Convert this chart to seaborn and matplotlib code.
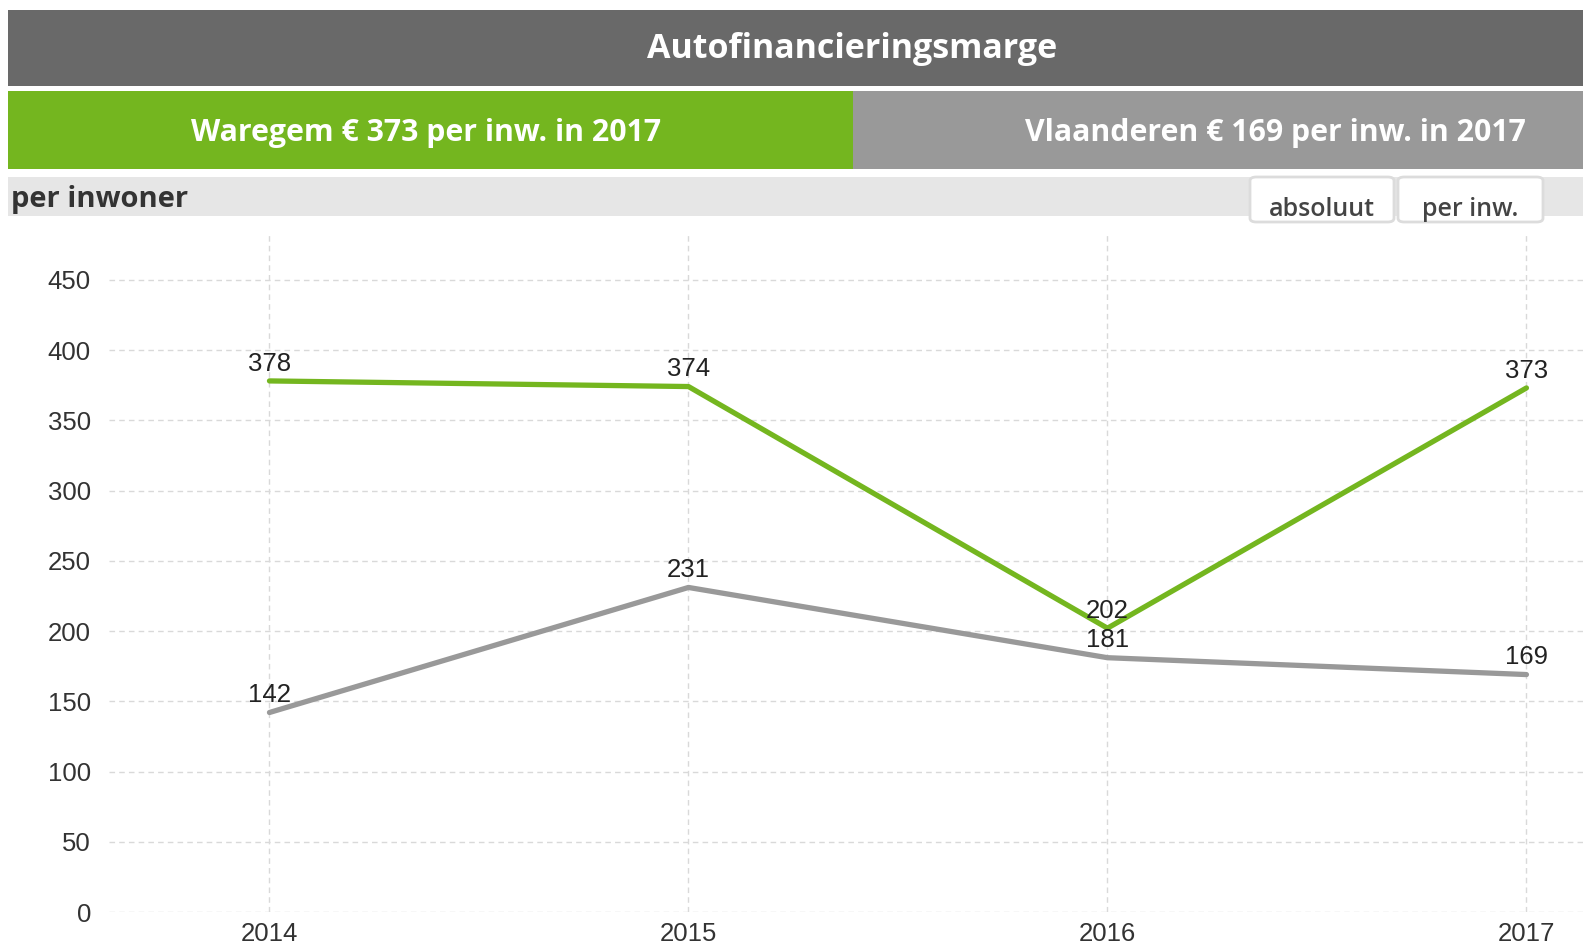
import pandas as pd
import matplotlib.pyplot as plt
import seaborn as sns
from matplotlib.patches import Rectangle, FancyBboxPatch

# data
years = [2014, 2015, 2016, 2017]
waregem = [378, 374, 202, 373]
vlaanderen = [142, 231, 181, 169]
series_names = ['Waregem', 'Vlaanderen']

title = 'Autofinancieringsmarge'
header_left = 'Waregem € 373 per inw. in 2017'
header_right = 'Vlaanderen € 169 per inw. in 2017'

df = pd.DataFrame({
    'jaar': years * 2,
    'waarde': waregem + vlaanderen,
    'reeks': [series_names[0]] * 4 + [series_names[1]] * 4,
})

sns.set_style('white')
plt.rcParams['font.family'] = ['Liberation Sans', 'DejaVu Sans']

W, H = 1583, 946
fig = plt.figure(figsize=(W / 100, H / 100), dpi=100)


def box(x0, y0, x1, y1):
    # pixel coords (top-left origin) -> figure fraction
    return x0 / W, 1 - y1 / H, (x1 - x0) / W, (y1 - y0) / H


def fx(x):
    return x / W


def fy(y):
    return 1 - y / H


green = '#74b61f'
grey = '#999999'

# header bars
for (x0, y0, x1, y1), col in [((8, 10, 1583, 86), '#696969'),
                              ((8, 91, 853, 169), green),
                              ((853, 91, 1583, 169), grey),
                              ((8, 177, 1583, 216), '#e6e6e6')]:
    l, b, w, h = box(x0, y0, x1, y1)
    fig.patches.append(Rectangle((l, b), w, h, transform=fig.transFigure,
                                 facecolor=col, edgecolor='none', zorder=0))

hdr_font = ['Open Sans', 'DejaVu Sans']
fig.text(fx(852), fy(49), title, ha='center', va='center', color='white',
         fontsize=24.5, fontweight='bold', family=hdr_font)
fig.text(fx(426), fy(133), header_left, ha='center', va='center', color='white',
         fontsize=21.8, fontweight='bold', family=hdr_font)
fig.text(fx(1275), fy(133), header_right, ha='center', va='center', color='white',
         fontsize=21.8, fontweight='bold', family=hdr_font)
fig.text(fx(11), fy(199), 'per inwoner', ha='left', va='center', color='#333333',
         fontsize=21, fontweight='bold', family=hdr_font)

# buttons
for (x0, x1), lab in [((1250, 1394), 'absoluut'), ((1398, 1543), 'per inw.')]:
    l, b, w, h = box(x0, 177, x1, 222)
    fig.patches.append(FancyBboxPatch((l, b), w, h, transform=fig.transFigure,
                                      boxstyle='round,pad=0,rounding_size=0.004',
                                      facecolor='white', edgecolor='#dcdcdc',
                                      linewidth=2, zorder=1))
    fig.text(l + w / 2, fy(209), lab, ha='center', va='center', color='#444444',
             fontsize=18, fontweight='semibold', family=hdr_font)

# chart
l, b, w, h = box(109, 232, 1583, 912)
ax = fig.add_axes([l, b, w, h])
sns.lineplot(data=df, x='jaar', y='waarde', hue='reeks', hue_order=series_names[::-1],
             palette={series_names[0]: green, series_names[1]: grey},
             linewidth=3.8, legend=False, ax=ax, zorder=3)

for xs, ys in [(years, waregem), (years, vlaanderen)]:
    for x, y in zip(xs, ys):
        ax.annotate(str(y), (x, y), xytext=(0, 12.5), textcoords='offset points',
                    ha='center', va='center', fontsize=18.5, color='#222222', zorder=4)

ax.set_xlim(2013.617, 2017.135)
ax.set_ylim(0, 484)
ax.set_xticks(years)
ax.set_yticks(range(0, 451, 50))
ax.grid(True, linestyle=(0, (4, 3)), color='#d9d9d9', linewidth=1)
ax.set_axisbelow(True)
for s in ax.spines.values():
    s.set_visible(False)
ax.tick_params(axis='y', length=0, pad=13, labelsize=18.5, labelcolor='#333333')
ax.tick_params(axis='x', length=0, pad=7, labelsize=18.5, labelcolor='#333333')
ax.set_xlabel('')
ax.set_ylabel('')

fig.savefig('out.png', dpi=100)
